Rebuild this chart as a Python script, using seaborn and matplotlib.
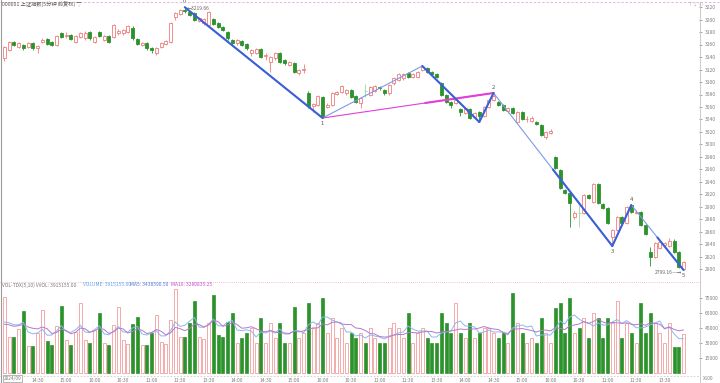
import numpy as np
import pandas as pd
import matplotlib
matplotlib.use("Agg")
import matplotlib.pyplot as plt
from matplotlib.lines import Line2D
import seaborn as sns

# ---------------- data ----------------
opens = [3138.4, 3151, 3164, 3156, 3159, 3156, 3162, 3155, 3164, 3169,
         3164, 3159, 3178, 3174, 3175, 3164, 3172, 3170, 3180, 3164,
         3180, 3167, 3174, 3172, 3179, 3178, 3180, 3186, 3169, 3159,
         3162, 3154, 3146, 3156, 3161, 3164, 3204, 3209, 3215, 3212,
         3210, 3198, 3194, 3191, 3201, 3194, 3188, 3180, 3167, 3162,
         3166, 3161, 3146, 3147, 3153, 3141, 3132, 3138, 3146, 3135,
         3127, 3130, 3114, 3119, 3082, 3062, 3063, 3076, 3060, 3063,
         3081, 3084, 3082, 3087, 3078, 3066, 3086, 3079, 3086, 3092,
         3087, 3082, 3098, 3103, 3106, 3114, 3108, 3108, 3119, 3122,
         3116, 3113, 3098, 3079, 3068, 3066, 3057, 3050, 3057, 3044,
         3052, 3046, 3060, 3071, 3068, 3063, 3053, 3058, 3036, 3052,
         3040, 3038, 3036, 3031, 3012, 3019, 2980, 2959, 2927, 2922,
         2884, 2891, 2890, 2919, 2908, 2937, 2905, 2898, 2852, 2863,
         2884, 2874, 2903, 2891, 2892, 2871, 2828, 2820, 2834, 2839,
         2838, 2846, 2828, 2801]
closes = [3156.0, 3164, 3159, 3162, 3154, 3162, 3154, 3157, 3167, 3161,
          3159, 3174, 3172, 3176, 3169, 3174, 3178, 3178, 3170, 3172,
          3174, 3174, 3164, 3191, 3181, 3183, 3190, 3170, 3161, 3162,
          3154, 3151, 3154, 3162, 3166, 3194, 3210, 3215, 3213, 3207,
          3199, 3202, 3201, 3212, 3193, 3188, 3183, 3170, 3162, 3167,
          3159, 3154, 3151, 3153, 3140, 3143, 3140, 3146, 3132, 3130,
          3132, 3116, 3119, 3121, 3062, 3064, 3078, 3044, 3063, 3082,
          3084, 3094, 3087, 3076, 3068, 3074, 3085, 3092, 3094, 3090,
          3082, 3095, 3106, 3113, 3113, 3108, 3113, 3116, 3124, 3116,
          3113, 3108, 3079, 3068, 3063, 3071, 3052, 3058, 3042, 3050,
          3046, 3060, 3071, 3078, 3063, 3055, 3058, 3050, 3052, 3041,
          3041, 3042, 3033, 3015, 3020, 3021, 2962, 2930, 2922, 2906,
          2890, 2890, 2919, 2914, 2937, 2906, 2898, 2874, 2863, 2884,
          2874, 2900, 2892, 2892, 2871, 2857, 2820, 2842, 2844, 2842,
          2846, 2828, 2804, 2812]
highs = [3158, 3166, 3166, 3164, 3161, 3164, 3164, 3159, 3170, 3171,
         3166, 3176, 3180, 3180, 3177, 3176, 3180, 3181, 3182, 3174,
         3182, 3176, 3176, 3193, 3185, 3185, 3192, 3189, 3171, 3164,
         3164, 3156, 3156, 3164, 3168, 3196, 3212, 3217, 3219.66, 3214,
         3212, 3204, 3203, 3214, 3203, 3196, 3190, 3182, 3169, 3169,
         3168, 3163, 3153, 3155, 3155, 3146, 3142, 3148, 3148, 3137,
         3134, 3132, 3121, 3129, 3085, 3067, 3080, 3078, 3066, 3084,
         3086, 3096, 3089, 3089, 3080, 3076, 3097, 3094, 3096, 3094,
         3089, 3097, 3108, 3115, 3115, 3116, 3115, 3118, 3125.6, 3124,
         3118, 3115, 3100, 3081, 3070, 3073, 3059, 3060, 3059, 3052,
         3054, 3062, 3073, 3082.4, 3070, 3065, 3060, 3060, 3054, 3054,
         3045, 3046, 3038, 3033, 3022, 3024, 2982, 2961, 2929, 2924,
         2893, 2903, 2921, 2921, 2939, 2939, 2907, 2900, 2865, 2886,
         2886, 2902, 2903.2, 2895, 2894, 2873, 2836, 2844, 2846, 2844,
         2850, 2848, 2830, 2814]
lows = [3133, 3149, 3157, 3154, 3152, 3155, 3152, 3146, 3162, 3159,
        3157, 3157, 3170, 3170, 3167, 3162, 3170, 3168, 3168, 3162,
        3172, 3165, 3162, 3170, 3176, 3176, 3178, 3168, 3159, 3157,
        3152, 3147, 3144, 3154, 3159, 3162, 3200, 3207, 3211, 3205,
        3197, 3196, 3192, 3189, 3191, 3186, 3181, 3168, 3160, 3160,
        3157, 3152, 3142, 3145, 3138, 3136, 3116, 3136, 3130, 3128,
        3125, 3114, 3112, 3114, 3059, 3052, 3061, 3042.4, 3058, 3061,
        3079, 3082, 3080, 3074, 3066, 3058, 3076, 3077, 3084, 3088,
        3080, 3080, 3096, 3101, 3104, 3106, 3106, 3106, 3117, 3114,
        3111, 3106, 3077, 3066, 3058, 3064, 3045, 3048, 3040, 3042,
        3036, 3044, 3058, 3069, 3061, 3053, 3051, 3048, 3034, 3039,
        3036, 3036, 3031, 3013, 3008, 3017, 2960, 2928, 2920, 2868,
        2880, 2868, 2888, 2912, 2906, 2904, 2896, 2872, 2837.6, 2861,
        2872, 2872, 2890, 2888, 2869, 2855, 2805, 2818, 2832, 2837,
        2836, 2826, 2802, 2799.16]
volumes = [76000, 36000, 36000, 44000, 62000, 27000, 27000, 40000, 63000, 32000,
           28000, 47000, 67000, 33000, 28000, 41000, 70000, 33000, 30000, 43000,
           60000, 30000, 28000, 48000, 66000, 33000, 29000, 49000, 56000, 28000,
           28000, 40000, 58000, 31000, 29000, 53000, 84000, 36000, 36000, 50000,
           72000, 36000, 34000, 50000, 78000, 38000, 36000, 51000, 60000, 30000,
           35000, 40000, 45000, 30000, 55000, 30000, 50000, 35000, 50000, 30000,
           30000, 66000, 35000, 40000, 70000, 45000, 50000, 75000, 40000, 55000,
           35000, 45000, 30000, 40000, 35000, 40000, 30000, 45000, 35000, 30000,
           30000, 45000, 50000, 45000, 35000, 60000, 30000, 40000, 45000, 35000,
           30000, 30000, 60000, 50000, 40000, 70000, 40000, 35000, 50000, 35000,
           40000, 45000, 45000, 40000, 35000, 40000, 30000, 80000, 50000, 40000,
           30000, 35000, 30000, 55000, 40000, 30000, 65000, 70000, 40000, 75000,
           40000, 45000, 55000, 35000, 60000, 55000, 35000, 55000, 50000, 72000,
           35000, 50000, 40000, 30000, 70000, 40000, 60000, 50000, 40000, 30000,
           50000, 26000, 26000, 39151.55]
# volumes of the bars just before the visible window (only feed the moving averages)
prior_volumes = [42000, 51000, 38000, 47000, 55000, 40000, 46000, 44000, 49000]
time_labels = ["14:30", "15:00", "10:00", "10:30", "11:00", "11:30", "13:30", "14:00",
               "14:30", "15:00", "10:00", "10:30", "11:00", "11:30", "13:30", "14:00",
               "14:30", "15:00", "10:00", "10:30", "11:00", "11:30", "13:30"]
first_label = "2024/09"
price_ticks = list(range(2800, 3221, 20))
vol_ticks = [15000, 30000, 45000, 60000, 75000]
wave_index = [38, 67, 88, 100, 103, 128, 132, 143]
wave_kind = ["H", "L", "H", "L", "H", "L", "H", "L"]
wave_names = ["0", "1", "", "", "2", "3", "4", "5"]

# ---------------- style ----------------
sns.set_theme(style="white")
plt.rcParams['font.family'] = ['Noto Sans CJK SC', 'DejaVu Sans']

RED = "#f07c7c"
RED_V = "#f49c9c"
GREEN = "#2c932c"
PALE_G = "#9fd49f"
BLUE = "#3b5fd6"
BLUE_L = "#7f9ae6"
MAG = "#e040d8"
TXT = "#808080"

W, H = 720, 383
fig = plt.figure(figsize=(W / 100, H / 100), dpi=100)
fig.patch.set_facecolor("white")


def rect(x0, y0, x1, y1):
    return [x0 / W, 1 - y1 / H, (x1 - x0) / W, (y1 - y0) / H]


axp = fig.add_axes(rect(1, 2, 699, 281))
axv = fig.add_axes(rect(1, 282, 699, 375), sharex=axp)

n = len(opens)
xs = np.arange(n)
df = pd.DataFrame({"x": xs, "open": opens, "close": closes, "high": highs,
                   "low": lows, "vol": volumes})
df["up"] = df["close"] >= df["open"]

bw = 0.64
for r in df.itertuples():
    col = RED if r.up else GREEN
    body_lo, body_hi = min(r.open, r.close), max(r.open, r.close)
    if not r.up and abs(r.close - r.open) < 1.5:
        col = PALE_G
    axp.vlines(r.x, r.low, r.high, color=col, lw=0.6, zorder=2)
    h = max(body_hi - body_lo, 0.8)
    if r.up:
        axp.bar(r.x, h, bottom=body_lo, width=bw, facecolor="white",
                edgecolor=col, lw=0.6, zorder=3)
    else:
        axp.bar(r.x, h, bottom=body_lo, width=bw, facecolor=col,
                edgecolor=col, lw=0.6, zorder=3)

# wave lines
wave_price = [df["high"][i] if k == "H" else df["low"][i] for i, k in zip(wave_index, wave_kind)]
thick_from = [0.0, None, 0.0, 0.0, 0.5, 0.0, 0.5]
for s in range(len(wave_index) - 1):
    x0, x1 = wave_index[s], wave_index[s + 1]
    y0, y1 = wave_price[s], wave_price[s + 1]
    tf = thick_from[s]
    axp.plot([x0, x1], [y0, y1], color=BLUE_L, lw=0.8, zorder=5)
    if tf is not None:
        xm, ym = x0 + (x1 - x0) * tf, y0 + (y1 - y0) * tf
        axp.plot([xm, x1], [ym, y1], color=BLUE, lw=1.5, zorder=6)

# magenta line from wave 1 to wave 2
i1, i2 = wave_index[1], wave_index[4]
p1, p2 = wave_price[1], wave_price[4]
axp.plot([i1, i2], [p1, p2], color=MAG, lw=0.8, zorder=5)
xm, ym = i1 + (i2 - i1) * 0.6, p1 + (p2 - p1) * 0.6
axp.plot([xm, i2], [ym, p2], color=MAG, lw=1.5, zorder=5)

for i, k, nm, p in zip(wave_index, wave_kind, wave_names, wave_price):
    if not nm:
        continue
    if k == "H":
        axp.annotate(nm, (i, p), xytext=(0, 2.5), textcoords="offset points",
                     ha="center", va="bottom", fontsize=4.2, color="#555555")
    else:
        axp.annotate(nm, (i, p), xytext=(0, -2.5), textcoords="offset points",
                     ha="center", va="top", fontsize=4.2, color="#555555")

axp.annotate(f"\u2190{highs[38]:.2f}", (38, highs[38]), xytext=(1.5, -1),
             textcoords="offset points", ha="left", va="center",
             fontsize=3.6, color="#666666")
axp.annotate(f"{lows[-1]:.2f}\u2014\u2192", (n - 1, lows[-1]), xytext=(-1, -1.5),
             textcoords="offset points", ha="right", va="center",
             fontsize=3.6, color="#666666")

axp.set_xlim(-0.695, 146.25)
axp.set_ylim(2781.6, 3228.0)
axp.yaxis.tick_right()
axp.set_yticks(price_ticks)
axp.set_yticklabels([str(t) for t in price_ticks])
axp.tick_params(axis="y", labelsize=3.6, colors=TXT, length=2, width=0.5, pad=2)
axp.tick_params(axis="x", bottom=False, labelbottom=False)
for sp in axp.spines.values():
    sp.set_visible(False)
axp.set_facecolor("white")

# ---------------- volume ----------------
for r in df.itertuples():
    if r.up:
        axv.bar(r.x, r.vol, width=bw, facecolor="white", edgecolor=RED_V, lw=0.6, zorder=2)
    else:
        axv.bar(r.x, r.vol, width=bw, facecolor=GREEN, edgecolor=GREEN, lw=0.5, zorder=2)

allv = pd.Series(prior_volumes + volumes)
k0 = len(prior_volumes)
df["ma5"] = allv.rolling(5, min_periods=1).mean().iloc[k0:].to_numpy()
df["ma10"] = allv.rolling(10, min_periods=1).mean().iloc[k0:].to_numpy()
sns.lineplot(data=df, x="x", y="ma5", ax=axv, color="#8ab8ee", lw=0.7, zorder=4)
sns.lineplot(data=df, x="x", y="ma10", ax=axv, color="#b878cc", lw=0.7, zorder=4)
axv.set_ylim(-2000, 91000)
axv.yaxis.tick_right()
axv.set_yticks(vol_ticks)
axv.set_yticklabels([str(t) for t in vol_ticks])
axv.tick_params(axis="y", labelsize=3.6, colors=TXT, length=2, width=0.5, pad=2)
tick_pos = list(range(7, n, 6))[:len(time_labels)]
axv.set_xticks(tick_pos)
axv.set_xticklabels(time_labels)
axv.tick_params(axis="x", labelsize=3.6, colors=TXT, length=1.5, width=0.5, pad=1)
axv.set_xlabel("")
axv.set_ylabel("")
for sp in axv.spines.values():
    sp.set_visible(False)

# ---------------- frame lines ----------------
def hline(y, x0, x1, **kw):
    fig.add_artist(Line2D([x0 / W, x1 / W], [1 - y / H, 1 - y / H], **kw))


def vline(x, y0, y1, **kw):
    fig.add_artist(Line2D([x / W, x / W], [1 - y0 / H, 1 - y1 / H], **kw))


hline(2, 0, 720, color="#e6a8d8", lw=0.6, ls=(0, (3, 2)))
hline(281.5, 0, 700, color="#e6a8d8", lw=0.6, ls=(0, (1, 1.5)))
hline(375.5, 0, 700, color="#cccccc", lw=0.6, ls=(0, (2, 2)))
vline(0.5, 0, 383, color="#9a9a9a", lw=0.8)
vline(699.5, 2, 383, color="#c0c0c0", lw=0.6)

# ---------------- texts ----------------
fig.text(2 / W, 1 - 5.5 / H, "000001 上证指数(5分钟 前复权) ▽", fontsize=3.8,
         color="#555555", va="center", ha="left")
fig.text(688 / W, 1 - 4 / H, "↑↓ ◇", fontsize=3.4, color="#aaaaaa", va="center", ha="left")

ty = 1 - 285 / H
parts = [("VOL-TDX(5,10) VVOL: 3915155.00", "#777777", 2),
         ("VOLUME: 3915155.00", "#5aa8e8", 83),
         ("MA5: 3438590.50", "#4a7ad8", 130),
         ("MA10: 3280835.25", "#c64cc6", 171)]
for txt, c, x in parts:
    fig.text(x / W, ty, txt, fontsize=3.5, color=c, va="center", ha="left")

fig.text(4 / W, 1 - 378.5 / H, first_label, fontsize=3.4, color=TXT, va="center", ha="left",
         bbox=dict(boxstyle="square,pad=0.15", fc="white", ec="#999999", lw=0.5))
fig.text(703 / W, 1 - 378.5 / H, "X100", fontsize=3.4, color=TXT, va="center", ha="left")

fig.savefig("out.png", dpi=100, facecolor="white")
